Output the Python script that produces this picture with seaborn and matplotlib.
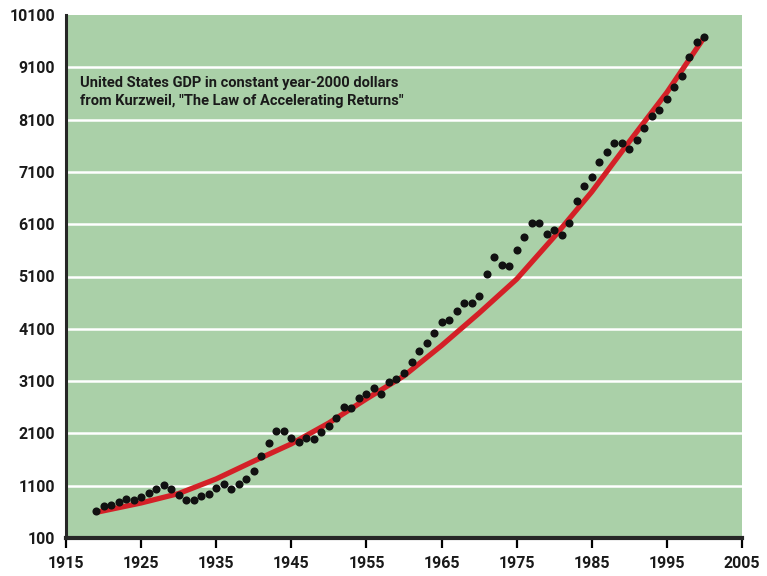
import pandas as pd
import seaborn as sns
import matplotlib.pyplot as plt

# yearly GDP dots (constant 2000 dollars, billions)
years = list(range(1919, 2001))
gdp = [610, 703, 728, 792, 854, 822, 886, 962, 1043, 1106,
       1043, 917, 822, 822, 895, 949, 1062, 1125, 1043, 1125,
       1232, 1378, 1673, 1926, 2145, 2145, 2007, 1935, 2010, 2000,
       2134, 2240, 2385, 2606, 2593, 2776, 2858, 2971, 2858, 3079,
       3141, 3249, 3457, 3676, 3835, 4011, 4224, 4275, 4432, 4602,
       4602, 4729, 5139, 5472, 5315, 5296, 5598, 5850, 6125, 6125,
       5914, 5989, 5900, 6125, 6537, 6821, 6998, 7283, 7490, 7648,
       7648, 7542, 7713, 7935, 8160, 8285, 8499, 8715, 8943, 9305,
       9586, 9681]

# red trend curve, read at a few points
trend_years = [1919, 1925, 1930, 1935, 1940, 1945, 1950, 1955, 1960,
               1965, 1970, 1975, 1980, 1985, 1990, 1995, 2000]
trend_gdp = [590, 770, 950, 1230, 1570, 1900, 2300, 2760, 3200,
             3780, 4400, 5050, 5860, 6720, 7680, 8620, 9680]

y_ticks = list(range(100, 10101, 1000))
x_ticks = list(range(1915, 2006, 10))

dots = pd.DataFrame({"year": years, "gdp": gdp})
trend = pd.DataFrame({"year": trend_years, "gdp": trend_gdp})

sns.set_style("ticks")
plt.rcParams["font.family"] = ["Roboto", "DejaVu Sans"]

fig = plt.figure(figsize=(7.67, 5.76), dpi=100)
ax = fig.add_axes([66 / 767, 38 / 576, 676 / 767, 523 / 576])
ax.set_facecolor("#aad0a8")

for v in y_ticks[1:-1]:
    ax.axhline(v, color="white", lw=1.8, zorder=1)

sns.lineplot(data=trend, x="year", y="gdp", color="#d42027", lw=3.8, ax=ax, zorder=2)
sns.scatterplot(data=dots, x="year", y="gdp", color="#111111", s=34, linewidth=0, ax=ax, zorder=3)

ax.set_xlim(1915, 2005)
ax.set_ylim(100, 10100)
ax.set_xticks(x_ticks)
ax.set_yticks(y_ticks)
ax.set_xlabel("")
ax.set_ylabel("")

for s in ["top", "right"]:
    ax.spines[s].set_visible(False)
ax.spines["left"].set_linewidth(2.2)
ax.spines["bottom"].set_linewidth(3)
ax.tick_params(axis="x", length=7, width=1.6, color="black", pad=6, labelsize=11.5)
ax.tick_params(axis="y", length=0, pad=8, labelsize=11.5)
for lab in ax.get_xticklabels() + ax.get_yticklabels():
    lab.set_fontweight("bold")
    lab.set_color("#1a1a1a")

ax.text(0.021, 0.884, "United States GDP in constant year-2000 dollars\nfrom Kurzweil, \"The Law of Accelerating Returns\"",
        transform=ax.transAxes, fontsize=10.5, fontweight="bold", color="#1a1a1a",
        va="top", ha="left", linespacing=1.4)

fig.savefig("out.png", dpi=100)
